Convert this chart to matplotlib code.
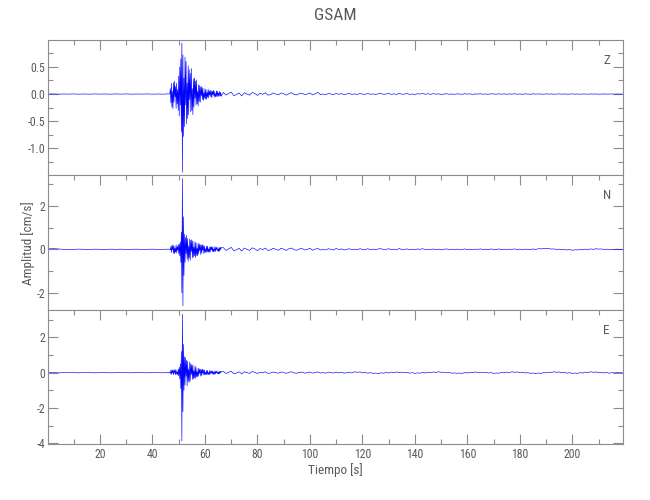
import numpy as np
import matplotlib
matplotlib.use("Agg")
import matplotlib.pyplot as plt
from matplotlib import font_manager
from matplotlib.ticker import MultipleLocator, FixedLocator, FormatStrFormatter


# ---------------------------------------------------------------------------
# Data (cm/s).  Each component is stored in three pieces:
# pre-event noise (2 s samples), the strong-motion window (0.2 s samples)
# and the coda (1 s samples).
# ---------------------------------------------------------------------------
components = ["Z", "N", "E"]
station = "GSAM"

pre_start, pre_dt = 0.0, 2.0
act_start, act_dt = 46.4, 0.2
coda_start, coda_dt = 67.0, 1.0

z_pre = [0.0, 0.002, -0.002, 0.001, -0.001, 0.002, -0.002, 0.001, -0.002, 0.002, -0.001, 0.001,
         -0.002, 0.002, -0.001, 0.002, -0.002, 0.001, -0.001, 0.002, -0.002, 0.001, -0.002, 0.003]
z_act = [0.0, 0.01, 0.1, -0.16, 0.2, -0.24, 0.05, -0.27, 0.21, -0.15, 0.24, -0.05, 0.14, -0.26, 0.2,
         -0.18, 0.08, -0.3, 0.33, -0.4, 0.5, -0.2, 0.65, -0.7, 0.94, -1.44, 0.72, -0.78, 0.3, -0.6,
         0.68, -0.2, 0.6, -0.55, 0.2, -0.45, 0.52, -0.38, 0.45, -0.1, 0.38, -0.33, 0.47, -0.3, 0.1,
         -0.38, 0.28, -0.24, 0.3, -0.08, 0.24, -0.2, 0.26, -0.18, 0.05, -0.22, 0.17, -0.14, 0.16, -0.15,
         0.13, -0.03, 0.14, -0.1, 0.11, -0.12, 0.02, -0.08, 0.1, -0.09,
         0.08, -0.1, 0.03, -0.06, 0.09, -0.07, 0.06, -0.02, 0.07, -0.05,
         0.06, -0.07, 0.05, -0.01, 0.07, -0.04, 0.05, -0.06, 0.01, -0.05,
         0.06, -0.04, 0.05, -0.05, 0.02, -0.03, 0.05, -0.04, 0.03, -0.04]
z_coda = [0.03, -0.02, 0.01, 0.035, -0.03, -0.01, 0.02, -0.035, 0.025, 0.0,
          -0.02, 0.03, 0.01, -0.025, 0.015, -0.005, 0.025, -0.02, -0.01, 0.02,
          0.0, -0.015, 0.02, 0.005, -0.02, 0.01, 0.025, -0.01, -0.015, 0.01,
          0.015, -0.01, 0.0, 0.02, -0.015, 0.005, 0.03, -0.01, 0.0, -0.012,
          0.01, 0.0, -0.01, 0.012, -0.005, 0.008, -0.01, 0.0, 0.012, -0.008,
          0.004, -0.008, 0.01, 0.0, -0.006, 0.01, -0.004, 0.002, -0.008, 0.006,
          0.01, -0.004, 0.0, 0.012, -0.006, 0.004, -0.008, 0.015, -0.004, 0.0,
          0.008, -0.006, 0.002, -0.008, 0.006, 0.0, 0.01, -0.004, 0.005, -0.006,
          0.008, -0.002, 0.004, -0.006, 0.0, 0.006, -0.004, 0.002, -0.006, 0.004,
          0.0, -0.004, 0.006, -0.002, 0.004, -0.005, 0.002, 0.0, 0.005, -0.003,
          0.002, -0.004, 0.005, 0.0, -0.003, 0.004, -0.002, 0.003, -0.004, 0.002,
          0.0, 0.004, -0.003, 0.002, -0.004, 0.003, 0.0, -0.003, 0.004, -0.002,
          0.003, 0.0, -0.003, 0.004, -0.002, 0.002, -0.003, 0.0, 0.003, -0.002,
          0.002, -0.003, 0.0, 0.003, -0.002, 0.001, -0.003, 0.002, 0.0, -0.002,
          0.003, -0.001, 0.002, -0.003, 0.0, 0.002, -0.002, 0.001, 0.002, -0.002,
          0.001, -0.001, 0.0]

n_pre = [0.02, 0.03, 0.02, 0.0, -0.01, 0.0, 0.01, 0.0, -0.01, 0.01, 0.0, -0.01,
         0.01, 0.0, 0.01, -0.01, 0.0, 0.01, -0.01, 0.0, 0.01, -0.01, 0.0, 0.01]
n_act = [0.0, 0.01, -0.02, 0.12, -0.15, 0.18, -0.03, 0.2, -0.18, 0.15, -0.2, 0.05, -0.14, 0.2,
         -0.16, 0.12, -0.05, 0.22, -0.2, 0.25, -0.3,
         0.35, -0.6, 0.8, -2.0, 3.26, -2.6, 1.5, -1.2, 0.7, -0.6,
         0.55, -0.2, 0.65, -0.45, 0.5, -0.55, 0.15, -0.4, 0.48, -0.5,
         0.42, -0.1, 0.45, -0.4, 0.38, -0.35, 0.1, -0.3, 0.35, -0.38,
         0.3, -0.28, 0.05, -0.3, 0.28, -0.22, 0.25, -0.06, 0.22, -0.24,
         0.2, -0.18, 0.22, -0.04, 0.18, -0.2, 0.15, -0.14, 0.03, -0.15,
         0.14, -0.12, 0.15, -0.13, 0.02, -0.14, 0.1, -0.12, 0.13, -0.02,
         0.12, -0.1, 0.11, -0.12, 0.01, -0.09, 0.12, -0.1, 0.09, -0.02,
         0.1, -0.08, 0.02, -0.1, 0.08, -0.09, 0.1, -0.01, 0.08]
n_coda = [0.08, -0.05, 0.02, 0.09, -0.07, -0.02, 0.05, -0.08, 0.06, 0.0,
          -0.05, 0.07, 0.02, -0.06, 0.04, -0.01, 0.06, -0.05, -0.02, 0.05,
          0.0, -0.04, 0.05, 0.01, -0.05, 0.03, 0.06, -0.02, -0.04, 0.02,
          0.04, -0.03, 0.0, 0.05, -0.04, 0.01, 0.04, -0.03, 0.0, -0.03,
          0.03, 0.0, -0.03, 0.04, -0.01, 0.02, -0.03, 0.0, 0.03, -0.02,
          0.01, -0.02, 0.03, 0.0, -0.02, 0.03, -0.01, 0.01, -0.02, 0.02,
          0.03, -0.01, 0.0, 0.03, -0.02, 0.01, -0.02, 0.04, -0.01, 0.0,
          0.02, -0.02, 0.01, -0.02, 0.02, 0.0, 0.03, -0.01, 0.01, -0.02,
          0.02, -0.01, 0.01, -0.02, 0.0, 0.02, -0.01, 0.01, -0.02, 0.01,
          0.0, -0.01, 0.02, -0.01, 0.01, -0.02, 0.01, 0.0, 0.02, -0.01,
          0.01, -0.02, 0.02, 0.0, -0.01, 0.02, -0.01, 0.01, -0.02, 0.01,
          0.0, 0.02, -0.01, 0.01, -0.02, 0.01, 0.0, -0.01, 0.02, -0.01,
          0.03, 0.02, 0.04, 0.03, 0.04, 0.01, 0.02, -0.01, 0.01, -0.02,
          0.0, -0.03, -0.01, -0.04, -0.02, -0.03, 0.0, -0.02, 0.01, -0.01,
          0.02, 0.0, 0.03, 0.01, 0.02, -0.01, 0.01, -0.02, 0.0, -0.01,
          0.01, -0.01, 0.0]

e_pre = [0.0, 0.01, -0.01, 0.0, 0.01, 0.0, -0.01, 0.01, 0.0, -0.01, 0.0, 0.01,
         -0.01, 0.0, 0.01, 0.0, -0.01, 0.01, 0.0, -0.01, 0.01, 0.0, -0.01, 0.01]
e_act = [0.0, 0.02, -0.05, 0.12, -0.1, 0.17, -0.02, 0.14, -0.12, 0.15, -0.03, 0.18, -0.12, 0.14,
         -0.09, 0.04, -0.13, 0.2, -0.18, 0.3, -0.35,
         0.5, -0.9, 1.2, -3.86, 3.3, -2.2, 1.6, -1.0, 0.9, -0.7,
         0.85, -0.2, 0.7, -0.75, 0.65, -0.5, 0.2, -0.55, 0.6, -0.45,
         0.5, -0.1, 0.45, -0.38, 0.42, -0.35, 0.1, -0.3, 0.38, -0.32,
         0.3, -0.25, 0.05, -0.22, 0.25, -0.2, 0.22, -0.04, 0.2, -0.2,
         0.18, -0.16, 0.2, -0.03, 0.16, -0.14, 0.15, -0.12, 0.02, -0.12,
         0.12, -0.1, 0.13, -0.11, 0.01, -0.12, 0.11, -0.09, 0.1, -0.02,
         0.1, -0.08, 0.09, -0.1, 0.02, -0.09, 0.1, -0.07, 0.08, -0.01,
         0.09, -0.07, 0.02, -0.08, 0.07, -0.06, 0.08, -0.01, 0.06]
e_coda = [0.08, -0.05, 0.02, 0.08, -0.06, -0.02, 0.05, -0.07, 0.05, 0.0,
          -0.04, 0.06, 0.02, -0.05, 0.03, -0.01, 0.05, -0.04, -0.02, 0.04,
          0.0, -0.03, 0.04, 0.01, -0.04, 0.02, 0.05, -0.02, -0.03, 0.02,
          0.03, -0.03, 0.0, 0.04, -0.03, 0.01, 0.04, -0.02, 0.0, -0.03,
          0.03, 0.0, -0.02, 0.03, -0.01, 0.02, -0.03, 0.0, 0.03, -0.02,
          0.05, 0.02, 0.04, -0.01, 0.02, -0.03, 0.0, -0.04, -0.02, -0.05,
          -0.01, -0.03, 0.01, -0.02, 0.03, 0.0, 0.04, 0.01, 0.03, -0.01,
          0.02, -0.03, 0.0, -0.04, -0.01, -0.03, 0.01, -0.02, 0.03, 0.0,
          0.04, 0.01, 0.05, 0.02, 0.03, -0.01, 0.01, -0.03, -0.01, -0.04,
          -0.02, -0.04, 0.0, -0.02, 0.02, 0.0, 0.04, 0.01, 0.03, -0.01,
          0.02, -0.02, 0.0, -0.04, -0.02, -0.03, 0.01, -0.01, 0.03, 0.01,
          0.05, 0.02, 0.04, 0.0, 0.02, -0.02, 0.0, -0.04, -0.02, -0.05,
          -0.02, -0.04, 0.0, -0.01, 0.03, 0.01, 0.05, 0.02, 0.04, 0.0,
          0.02, -0.03, 0.0, -0.05, -0.02, -0.04, 0.0, -0.02, 0.03, 0.01,
          0.05, 0.02, 0.04, 0.0, 0.02, -0.02, 0.01, -0.03, 0.0, -0.02,
          0.01, -0.01, 0.0]

traces = {"Z": (z_pre, z_act, z_coda), "N": (n_pre, n_act, n_coda), "E": (e_pre, e_act, e_coda)}

# axis settings per panel
y_limits = {"Z": (-1.49, 0.995), "N": (-2.79, 3.42), "E": (-4.03, 3.54)}
y_major = {"Z": 0.5, "N": 2.0, "E": 2.0}
y_minor = {"Z": 0.25, "N": 1.0, "E": 1.0}
y_format = {"Z": "%.1f", "N": "%d", "E": "%d"}

x_max = 219.4
x_major_ticks = [20, 40, 60, 80, 100, 120, 140, 160, 180, 200]
x_minor_ticks = [10, 30, 50, 70, 90, 110, 130, 150, 170, 190, 210]


def pick_font(names):
    available = {f.name for f in font_manager.fontManager.ttflist}
    for name in names:
        if name in available:
            return name
    return "DejaVu Sans"


def build_series(pre, act, coda):
    t = np.concatenate([
        pre_start + pre_dt * np.arange(len(pre)),
        act_start + act_dt * np.arange(len(act)),
        coda_start + coda_dt * np.arange(len(coda)),
    ])
    v = np.concatenate([pre, act, coda])
    return t, v


FONT = pick_font(["Liberation Sans Narrow", "Roboto Condensed", "Liberation Sans"])
TEXT = "#5a5a5a"
AXIS = "#8c8c8c"
plt.rcParams["font.family"] = FONT

W, H = 650, 500
left, right = 47.5, 623.3
panel_edges = [40, 175, 310, 444]

fig = plt.figure(figsize=(W / 100, H / 100), dpi=100)
for i, comp in enumerate(components):
    top_px, bot_px = panel_edges[i], panel_edges[i + 1]
    ax = fig.add_axes([left / W, 1 - bot_px / H, (right - left) / W, (bot_px - top_px) / H])
    t, v = build_series(*traces[comp])
    ax.plot(t, v, color="#0000ff", lw=0.45)

    ax.set_xlim(0, x_max)
    ax.set_ylim(*y_limits[comp])
    ax.xaxis.set_major_locator(FixedLocator(x_major_ticks))
    ax.xaxis.set_minor_locator(FixedLocator(x_minor_ticks))
    ax.yaxis.set_major_locator(MultipleLocator(y_major[comp]))
    ax.yaxis.set_minor_locator(MultipleLocator(y_minor[comp]))
    ax.yaxis.set_major_formatter(FormatStrFormatter(y_format[comp]))

    last = i == len(components) - 1
    ax.tick_params(which="both", direction="in", colors=AXIS, labelcolor=TEXT,
                   top=True, right=True, bottom=last, labelbottom=last, width=0.8)
    ax.tick_params(which="major", length=7)
    ax.tick_params(which="minor", length=3.6)
    ax.tick_params(axis="y", labelsize=8.5, pad=1.5)
    ax.tick_params(axis="x", labelsize=8.5, pad=3)
    for s in ax.spines.values():
        s.set_color(AXIS)
        s.set_linewidth(0.8)

    ax.text(606.7 / W, 1 - (top_px + 20.7) / H, comp, transform=fig.transFigure,
            ha="center", va="center", fontsize=9.5, color=TEXT)

fig.text(335 / W, 1 - 15 / H, station, ha="center", va="center", fontsize=12.5, color=TEXT)
fig.text(28 / W, 1 - 243 / H, "Amplitud [cm/s]", rotation=90, ha="center", va="center",
         fontsize=9.5, color=TEXT)
fig.text(335 / W, 1 - 470 / H, "Tiempo [s]", ha="center", va="center", fontsize=9.5, color=TEXT)

fig.savefig("out.png", dpi=100)
